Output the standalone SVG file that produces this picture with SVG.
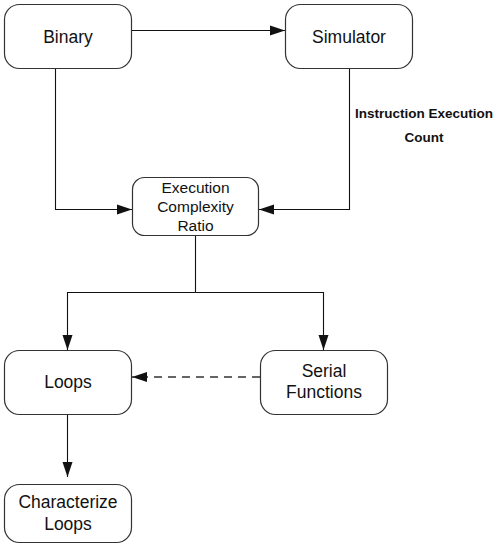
<svg xmlns="http://www.w3.org/2000/svg" width="501" height="548" viewBox="0 0 501 548">
<defs>
<style>
.box{fill:#fff;stroke:#333;stroke-width:1.2}
.t{font-family:"Liberation Sans",Arial,sans-serif;font-size:17.5px;fill:#111;text-anchor:middle}
.ts{font-size:15.5px}
.lbl{font-family:"Liberation Sans",Arial,sans-serif;font-size:13.5px;font-weight:bold;fill:#111;text-anchor:middle}
.c{fill:none;stroke:#111;stroke-width:1.1}
.d{stroke-dasharray:8,6;stroke-width:1.6;stroke:#333}
</style>
<marker id="ah" markerUnits="userSpaceOnUse" markerWidth="16" markerHeight="12" refX="15" refY="5" orient="auto" viewBox="0 0 16 10">
<path d="M0,0 L15,5 L0,10 Z" fill="#111"/>
</marker>
</defs>
<rect width="501" height="548" fill="#fff"/>
<g id="connectors">
<path class="c" d="M132,30.5 L285,30.5" marker-end="url(#ah)"/>
<path class="c" d="M55.5,69 L55.5,209.5 L132,209.5" marker-end="url(#ah)"/>
<path class="c" d="M349.5,69 L349.5,209.5 L259,209.5" marker-end="url(#ah)"/>
<path class="c" d="M195.5,236 L195.5,292.5"/>
<path class="c" d="M195.5,292.5 L67.5,292.5 L67.5,350" marker-end="url(#ah)"/>
<path class="c" d="M195.5,292.5 L323.5,292.5 L323.5,350" marker-end="url(#ah)"/>
<path class="c d" d="M260,377 L132,377" marker-end="url(#ah)"/>
<path class="c" d="M67.5,414 L67.5,477" marker-end="url(#ah)"/>
<text class="lbl" x="424" y="117.5">Instruction Execution</text>
<text class="lbl" x="424" y="141.5">Count</text>
</g>
<g id="binary">
<rect class="box" x="4.5" y="4.5" width="127" height="64" rx="15"/>
<text class="t" x="68" y="42.5">Binary</text>
</g>
<g id="simulator">
<rect class="box" x="285.5" y="4.5" width="127" height="64" rx="15"/>
<text class="t" x="349" y="42.5">Simulator</text>
</g>
<g id="ecr">
<rect class="box" x="132.5" y="177.5" width="126" height="58" rx="12"/>
<text class="t ts" x="195.5" y="192.5">Execution</text>
<text class="t ts" x="195.5" y="211.5">Complexity</text>
<text class="t ts" x="195.5" y="230.5">Ratio</text>
</g>
<g id="loops">
<rect class="box" x="4.5" y="350.5" width="127" height="64" rx="15"/>
<text class="t" x="68" y="387.5">Loops</text>
</g>
<g id="serial">
<rect class="box" x="260.5" y="350.5" width="127" height="64" rx="15"/>
<text class="t" x="324" y="377">Serial</text>
<text class="t" x="324" y="398">Functions</text>
</g>
<g id="characterize">
<rect class="box" x="4.5" y="484.5" width="127" height="58" rx="15"/>
<text class="t" x="68" y="508">Characterize</text>
<text class="t" x="68" y="529.5">Loops</text>
</g>
</svg>
